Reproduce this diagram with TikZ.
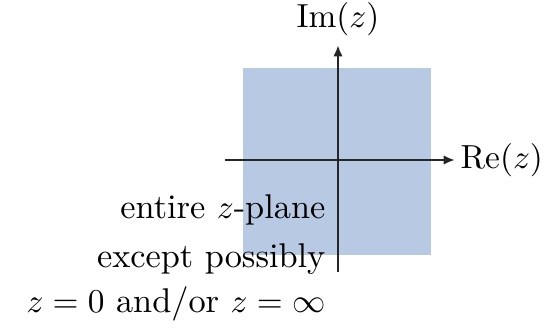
\documentclass[tikz,border=0pt]{standalone}
\usepackage{amsmath}
\usepackage{xcolor}
\usepackage{tikz}
\usetikzlibrary{arrows.meta,positioning}
\definecolor{cplblue}{RGB}{183,201,227}
\tikzset{
  cplregion/.style={fill=cplblue,draw=none},
  cplaxis/.style={-{Latex[length=3.4pt,width=2.8pt]},line width=0.65pt,black!85},
  cpllabel/.style={font=\fontsize{10.3}{12}\selectfont,inner sep=1pt},
  cpltext/.style={font=\fontsize{10.3}{12}\selectfont,anchor=east,inner sep=0pt}
}
\begin{document}
\begin{tikzpicture}[x=0.3pt,y=0.3pt]
  \useasboundingbox (0,0) rectangle (551,332);
  \fill[cplregion] (243,77) rectangle (431,264);

  \coordinate (reL) at (225,172);
  \coordinate (reR) at (455,172);
  \coordinate (imB) at (338,60);
  \coordinate (imT) at (338,287);
  \draw[cplaxis] (reL) -- (reR);
  \draw[cplaxis] (imB) -- (imT);

  \node[cpllabel,above=1.5pt of imT] (im) {$\operatorname{Im}(z)$};
  \node[cpllabel,right=0.5pt of reR] (re) {$\operatorname{Re}(z)$};

  \node[cpltext] (entire) at (326,122) {entire $z$-plane};
  \node[cpltext] (except) at (326,73) {except possibly};
  \node[cpltext] (zero) at (326,28) {$z=0$ and/or $z=\infty$};
\end{tikzpicture}
\end{document}
